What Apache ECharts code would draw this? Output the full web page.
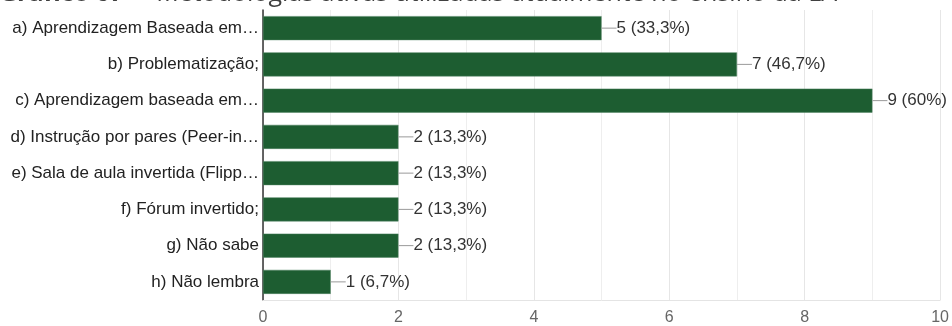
<!DOCTYPE html>
<html>
<head>
<meta charset="utf-8">
<script src="https://cdn.jsdelivr.net/npm/echarts@6/dist/echarts.min.js"></script>
<style>
  html, body { margin: 0; padding: 0; background: #fff; }
  #chart { width: 952px; height: 326px; }
</style>
</head>
<body>
<div id="chart"></div>
<script>
// Answer options (labels shortened as displayed)
const categories = [
  'a) Aprendizagem Baseada em…',
  'b) Problematização;',
  'c) Aprendizagem baseada em…',
  'd) Instrução por pares (Peer-in…',
  'e) Sala de aula invertida (Flipp…',
  'f) Fórum invertido;',
  'g) Não sabe',
  'h) Não lembra'
];
// Number of respondents choosing each option
const counts = [5, 7, 9, 2, 2, 2, 2, 1];
const totalRespondents = 15;
const xTicks = [0, 2, 4, 6, 8, 10];

const titleBold = 'Gráfico 07';
const titleRest = ' –  Metodologias ativas utilizadas atualmente no ensino da LA';

function pct(v) {
  const p = Math.round(v / totalRespondents * 1000) / 10;
  return String(p).replace('.', ',') + '%';
}

const chart = echarts.init(document.getElementById('chart'));
chart.setOption({
  animation: false,
  textStyle: { fontFamily: 'Liberation Sans, Arial, sans-serif' },
  graphic: [{
    type: 'text',
    left: -1,
    top: -19,
    style: {
      text: '{b|' + titleBold + '}{n|' + titleRest + '}',
      rich: {
        b: { fontFamily: 'Open Sans', fontWeight: 'bold', fontSize: 25, fill: '#404040' },
        n: { fontFamily: 'Open Sans', fontSize: 25, fill: '#404040' }
      }
    }
  }],
  grid: { left: 263, right: 9, top: 10, bottom: 25, containLabel: false },
  xAxis: {
    type: 'value',
    min: 0,
    max: 10,
    interval: 2,
    axisLine: { show: true, lineStyle: { color: '#e4e4e4' } },
    axisTick: { show: false },
    axisLabel: {
      color: '#666',
      fontSize: 16,
      margin: 10,
      customValues: xTicks
    },
    splitLine: { show: true, lineStyle: { color: '#e6e6e6' } },
    minorTick: { show: false, splitNumber: 2 },
    minorSplitLine: { show: true, lineStyle: { color: '#eeeeee' } }
  },
  yAxis: {
    type: 'category',
    data: categories,
    inverse: true,
    axisLine: { show: true, lineStyle: { color: '#333', width: 1.5 } },
    axisTick: { show: false },
    axisLabel: { color: '#222', fontSize: 17, margin: 4 }
  },
  series: [{
    type: 'bar',
    data: counts,
    barWidth: 24,
    itemStyle: { color: '#1d5d31', borderColor: '#4e8060', borderWidth: 0.5 },
    label: {
      show: true,
      position: 'right',
      distance: 0,
      color: '#333',
      fontSize: 17,
      formatter: p => '{l|}' + p.value + ' (' + pct(p.value) + ')',
      rich: {
        l: { width: 15, height: 1, backgroundColor: '#999' }
      }
    }
  }]
});
</script>
</body>
</html>
